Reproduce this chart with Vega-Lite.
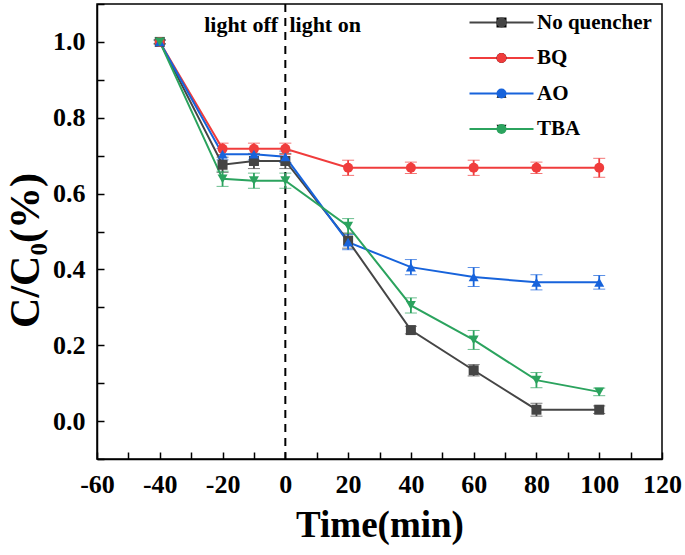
{
  "$schema": "https://vega.github.io/schema/vega-lite/v6.json",
  "autosize": {"type": "none"},
  "padding": {"left": 97, "top": 4, "right": 23, "bottom": 96},
  "width": 565,
  "height": 455,
  "background": "white",
  "config": {
    "view": {"stroke": "black", "strokeWidth": 1.5},
    "font": "Liberation Serif",
    "axis": {
      "grid": false,
      "domainColor": "black",
      "domainWidth": 1.5,
      "ticks": true,
      "tickColor": "black",
      "tickOpacity": 1,
      "tickWidth": 1.5,
      "labelFont": "Liberation Serif",
      "labelFontWeight": "bold",
      "labelFontSize": 26,
      "labelColor": "black",
      "titleFont": "Liberation Serif",
      "titleFontWeight": "bold",
      "titleColor": "black"
    },
    "legend": {
      "title": null,
      "orient": "none",
      "legendX": 394,
      "legendY": 8,
      "padding": 0,
      "rowPadding": 13.5,
      "symbolSize": 100,
      "symbolOpacity": 1,
      "labelOffset": 25,
      "labelFont": "Liberation Serif",
      "labelFontWeight": "bold",
      "labelFontSize": 21,
      "labelColor": "black",
      "labelLimit": 300
    }
  },
  "data": {
    "values": [
      {"series": "No quencher", "time": -40, "value": 1.0, "err": 0.005},
      {"series": "No quencher", "time": -20, "value": 0.676, "err": 0.02},
      {"series": "No quencher", "time": -10, "value": 0.686, "err": 0.02},
      {"series": "No quencher", "time": 0, "value": 0.686, "err": 0.02},
      {"series": "No quencher", "time": 20, "value": 0.476, "err": 0.02},
      {"series": "No quencher", "time": 40, "value": 0.240, "err": 0.01},
      {"series": "No quencher", "time": 60, "value": 0.134, "err": 0.015},
      {"series": "No quencher", "time": 80, "value": 0.030, "err": 0.017},
      {"series": "No quencher", "time": 100, "value": 0.030, "err": 0.01},
      {"series": "BQ", "time": -40, "value": 1.0, "err": 0.005},
      {"series": "BQ", "time": -20, "value": 0.718, "err": 0.015},
      {"series": "BQ", "time": -10, "value": 0.718, "err": 0.015},
      {"series": "BQ", "time": 0, "value": 0.718, "err": 0.015},
      {"series": "BQ", "time": 20, "value": 0.668, "err": 0.02},
      {"series": "BQ", "time": 40, "value": 0.668, "err": 0.015},
      {"series": "BQ", "time": 60, "value": 0.668, "err": 0.02},
      {"series": "BQ", "time": 80, "value": 0.668, "err": 0.015},
      {"series": "BQ", "time": 100, "value": 0.668, "err": 0.025},
      {"series": "AO", "time": -40, "value": 1.0, "err": 0.005},
      {"series": "AO", "time": -20, "value": 0.704, "err": 0.015},
      {"series": "AO", "time": -10, "value": 0.704, "err": 0.015},
      {"series": "AO", "time": 0, "value": 0.697, "err": 0.015},
      {"series": "AO", "time": 20, "value": 0.472, "err": 0.02},
      {"series": "AO", "time": 40, "value": 0.406, "err": 0.02},
      {"series": "AO", "time": 60, "value": 0.380, "err": 0.025},
      {"series": "AO", "time": 80, "value": 0.366, "err": 0.02},
      {"series": "AO", "time": 100, "value": 0.366, "err": 0.018},
      {"series": "TBA", "time": -40, "value": 1.0, "err": 0.005},
      {"series": "TBA", "time": -20, "value": 0.639, "err": 0.02},
      {"series": "TBA", "time": -10, "value": 0.634, "err": 0.02},
      {"series": "TBA", "time": 0, "value": 0.634, "err": 0.02},
      {"series": "TBA", "time": 20, "value": 0.514, "err": 0.02},
      {"series": "TBA", "time": 40, "value": 0.305, "err": 0.02},
      {"series": "TBA", "time": 60, "value": 0.214, "err": 0.025},
      {"series": "TBA", "time": 80, "value": 0.108, "err": 0.02},
      {"series": "TBA", "time": 100, "value": 0.077, "err": 0.01}
    ]
  },
  "encoding": {
    "x": {
      "field": "time", "type": "quantitative",
      "scale": {"domain": [-60, 120], "nice": false, "zero": false},
      "axis": {
        "title": "Time(min)",
        "titleFontSize": 37,
        "titleY": 66,
        "titleBaseline": "middle",
        "values": [-60, -50, -40, -30, -20, -10, 0, 10, 20, 30, 40, 50, 60, 70, 80, 90, 100, 110, 120],
        "labelExpr": "datum.value % 20 === 0 ? '' + datum.value : ''",
        "tickSize": -7,
        "labelPadding": 19,
        "labelFlush": false,
        "labelOverlap": false
      }
    },
    "y": {
      "field": "value", "type": "quantitative",
      "scale": {"domain": [-0.1, 1.1], "nice": false, "zero": false},
      "axis": {
        "title": "C/C₀(%)",
        "titleFontSize": 42,
        "titleX": -72,
        "titleY": 246,
        "titleAngle": -90,
        "titleAlign": "center",
        "titleBaseline": "middle",
        "values": [-0.1, 0, 0.1, 0.2, 0.3, 0.4, 0.5, 0.6, 0.7, 0.8, 0.9, 1.0, 1.1],
        "labelExpr": "round(datum.value * 10) % 2 === 0 && datum.value > -0.05 && datum.value < 1.05 ? format(datum.value, '.1f') : ''",
        "tickSize": -7,
        "labelPadding": 19,
        "labelFlush": false,
        "labelOverlap": false
      }
    }
  },
  "layer": [
    {
      "transform": [{"filter": "datum.series === 'BQ' && datum.time === 0"}],
      "mark": {"type": "rule", "strokeDash": [8, 6], "strokeWidth": 2, "color": "black"},
      "encoding": {"x": {"datum": 0}, "y": null}
    },
    {
      "transform": [{"filter": "datum.series === 'BQ' && datum.time === 0"}],
      "mark": {"type": "text", "text": "light off", "align": "right", "baseline": "middle", "fontSize": 22, "fontWeight": "bold", "font": "Liberation Serif", "color": "black"},
      "encoding": {"x": {"datum": -2.3}, "y": {"datum": 1.045}}
    },
    {
      "transform": [{"filter": "datum.series === 'BQ' && datum.time === 0"}],
      "mark": {"type": "text", "text": "light on", "align": "left", "baseline": "middle", "fontSize": 22, "fontWeight": "bold", "font": "Liberation Serif", "color": "black"},
      "encoding": {"x": {"datum": 1.3}, "y": {"datum": 1.045}}
    },
    {
      "mark": {"type": "errorbar", "ticks": {"size": 12, "strokeWidth": 1.8}, "rule": {"strokeWidth": 1.8}},
      "encoding": {
        "yError": {"field": "err"},
        "color": {"field": "series", "type": "nominal"}
      }
    },
    {
      "mark": {"type": "line", "strokeWidth": 2},
      "encoding": {
        "color": {
          "field": "series", "type": "nominal",
          "scale": {"domain": ["No quencher", "BQ", "AO", "TBA"], "range": ["#454545", "#f03c3c", "#1763db", "#2ba35e"]},
          "legend": {"symbolType": "M-6.4,0H6.4", "symbolStrokeWidth": 2}
        }
      }
    },
    {
      "mark": {"type": "point", "filled": true, "opacity": 1, "size": 100, "strokeWidth": 0},
      "encoding": {
        "fill": {
          "field": "series", "type": "nominal",
          "sort": ["No quencher", "BQ", "AO", "TBA"],
          "scale": {"range": ["#454545", "#f03c3c", "#1763db", "#2ba35e"]},
          "legend": {"labelOpacity": 0, "symbolStrokeWidth": 0}
        },
        "shape": {
          "field": "series", "type": "nominal",
          "sort": ["No quencher", "BQ", "AO", "TBA"],
          "scale": {"range": ["square", "circle", "triangle-up", "triangle-down"]},
          "legend": {"labelOpacity": 0, "symbolStrokeWidth": 0}
        }
      }
    }
  ]
}
